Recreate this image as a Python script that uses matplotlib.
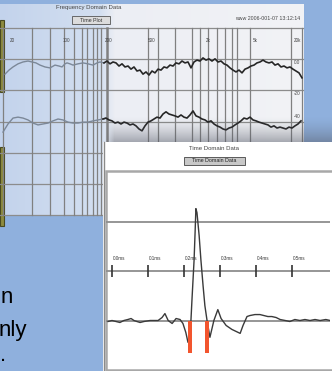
import numpy as np
import matplotlib
matplotlib.use("Agg")
import matplotlib.pyplot as plt
from matplotlib.patches import Rectangle
from matplotlib.colors import to_rgb

plt.rcParams['font.family'] = ['Liberation Sans', 'DejaVu Sans']

# ---------------- data ----------------
# Frequency-domain panel (x = analyser band index, y = level in dB)
freq_grid_bands = [3, 32, 50, 64, 74, 82, 87, 93, 97, 101, 107, 148, 158, 175,
                   192, 200, 208, 217, 225, 232, 237, 250, 291, 302]
freq_major_band = 107
level_grid = [0, -10, -20, -30, -40, -50, -60]
freq_label_bands = [12, 66, 109, 152, 208, 255, 297]
freq_labels = ['20', '100', '200', '500', '2k', '5k', '20k']
level_label_values = [-11, -21, -28.5]
level_labels = ['0.0', '-20', '-40']

upper_band = [5, 9, 13, 18, 23, 28, 32, 36, 40, 45, 50, 55, 59, 62, 65, 67, 70, 73, 78, 83,
              88, 93, 97, 100, 104, 107, 110, 113, 116, 119, 122, 125, 128, 131, 134, 137,
              140, 143, 146, 149, 152, 155, 158, 161, 164, 167, 170, 173, 176, 179, 182,
              185, 188, 191, 194, 197, 200, 203, 206, 209, 212, 215, 218, 221, 224, 227,
              230, 233, 236, 239, 242, 245, 248, 251, 254, 257, 260, 263, 266, 269, 272,
              275, 278, 281, 284, 287, 290, 293, 296, 299, 302]
upper_db = [-14.8, -13.5, -12.5, -11.5, -10.9, -10.6, -10.9, -11.2, -11.9, -12.5, -12.8,
            -11.9, -12.2, -12.5, -11.5, -11.2, -11.5, -11.9, -11.5, -11.2, -11.5, -11.9,
            -11.2, -10.9, -11.2, -10.6, -11.5, -10.9, -11.2, -12.2, -11.5, -12.5, -12.2,
            -13.2, -12.5, -13.8, -13.5, -14.8, -14.1, -15.1, -13.8, -14.4, -13.2, -13.5,
            -12.5, -12.8, -11.9, -12.2, -11.2, -11.5, -10.6, -11.2, -10.9, -12.8, -10.9,
            -10.3, -10.6, -9.6, -10.3, -9.9, -10.6, -9.9, -10.9, -10.6, -11.5, -11.9,
            -12.8, -13.5, -14.1, -13.5, -14.4, -13.2, -12.8, -12.2, -11.9, -11.2, -10.9,
            -10.3, -10.9, -11.2, -10.9, -11.9, -11.5, -12.5, -12.2, -12.8, -12.5, -13.2,
            -13.8, -14.4, -16.0]

lower_band = [3, 8, 13, 18, 23, 28, 33, 38, 43, 48, 53, 58, 63, 68, 73, 78, 83, 88, 93, 98,
              103, 106, 109, 112, 115, 118, 121, 124, 127, 130, 133, 136, 139, 142, 145,
              148, 151, 154, 157, 160, 163, 166, 169, 172, 175, 178, 181, 184, 187, 190,
              193, 196, 199, 202, 205, 208, 211, 214, 217, 220, 223, 226, 229, 232, 235,
              238, 241, 244, 247, 250, 253, 256, 259, 262, 265, 268, 271, 274, 277, 280,
              283, 286, 289, 292, 295, 298, 301]
lower_db = [-33.4, -30.8, -28.9, -28.6, -28.9, -29.5, -30.5, -31.1, -30.8, -30.5, -29.8,
            -29.2, -29.5, -30.2, -30.5, -30.5, -30.2, -30.2, -29.8, -29.5, -29.2, -28.9,
            -29.5, -29.8, -30.5, -30.2, -30.8, -30.2, -30.5, -31.1, -30.8, -31.4, -32.4,
            -33.0, -31.4, -30.2, -29.8, -29.2, -28.6, -28.9, -27.6, -26.9, -27.6, -27.9,
            -28.2, -28.6, -27.9, -28.6, -28.9, -27.9, -26.6, -28.2, -28.6, -29.2, -29.5,
            -30.2, -29.8, -30.8, -31.4, -31.8, -32.4, -32.7, -32.1, -31.8, -31.1, -30.5,
            -29.8, -28.9, -29.2, -28.6, -29.5, -29.8, -30.2, -30.5, -30.8, -31.1, -31.8,
            -31.4, -32.1, -31.8, -32.1, -32.4, -31.8, -32.1, -31.4, -30.8, -29.8]

# Time-domain panel (x = time in microseconds, y = normalised amplitude)
time_us = [-11, 0, 11, 22, 33, 44, 53, 61, 69, 78, 89, 106, 128, 139, 147, 156, 167, 178,
           189, 197, 205, 211, 214, 219, 222, 228, 231, 233, 236, 242, 247, 253, 258, 264,
           272, 283, 294, 303, 317, 333, 356, 364, 375, 383, 397, 411, 422, 433, 444, 456,
           467, 481, 494, 508, 522, 536, 550, 564, 578, 594, 606]
amplitude = [-0.01, 0.0, -0.01, -0.02, 0.0, 0.01, 0.02, 0.0, -0.01, -0.02, -0.01, 0.0,
             0.0, 0.03, 0.07, 0.0, -0.03, 0.02, 0.01, -0.03, -0.12, -0.22, -0.2, -0.02,
             0.2, 0.61, 0.91, 1.13, 1.09, 0.86, 0.61, 0.35, 0.15, 0.0, -0.17, 0.0, 0.11,
             0.02, -0.05, -0.09, -0.13, -0.05, 0.04, 0.05, 0.06, 0.06, 0.05, 0.04, 0.04,
             0.03, 0.01, 0.0, -0.01, 0.01, 0.0, 0.01, 0.0, 0.01, 0.0, 0.01, 0.0]
marker_time_us = [217, 264]
marker_depth = [-0.33, -0.33]
amp_grid = [0.0, 0.5, 1.0]
time_ticks_us = [0, 100, 200, 300, 400, 500]
time_tick_labels = ['0.0ms', '0.1ms', '0.2ms', '0.3ms', '0.4ms', '0.5ms']

# ---------------- figure ----------------
W, H = 332, 371
fig = plt.figure(figsize=(W / 100, H / 100), dpi=100)
fig.patch.set_facecolor('#8fb0dd')


def px_axes(x0, y0, x1, y1, z):
    ax = fig.add_axes([x0 / W, 1 - y1 / H, (x1 - x0) / W, (y1 - y0) / H])
    ax.set_zorder(z)
    ax.patch.set_alpha(0)
    ax.set_axis_off()
    return ax


# background layer
bg = px_axes(0, 0, W, H, 0)
stops_x = [0, 100, 115, 304]
stops_c = [to_rgb('#c3d3ec'), to_rgb('#d3dff0'), to_rgb('#eceef4'), to_rgb('#f2f3f6')]
xs = np.arange(304) + 0.5
grad = np.stack([np.interp(xs, stops_x, [c[i] for c in stops_c]) for i in range(3)],
                axis=-1)[None, :, :]
bg.imshow(grad, extent=(0, 304, 215, 4), aspect='auto', interpolation='bilinear', zorder=1)
for (y0, h) in [(20, 72), (147, 79)]:
    bg.add_patch(Rectangle((0, y0), 4, h, fc='#8d8b3f', ec='#4a4a20', lw=0.8, zorder=2))
bg.text(89, 8, 'Frequency Domain Data', fontsize=4.3, color='#444444',
        ha='center', va='center', zorder=3)
bg.add_patch(Rectangle((72, 16), 38, 8, fc='#dcdcdc', ec='#555555', lw=0.6, zorder=3))
bg.text(91, 20, 'Time Plot', fontsize=3.8, color='#333333', ha='center', va='center', zorder=4)
bg.text(300, 19, 'www 2006-001-07 13:12:14', fontsize=3.8, color='#444444',
        ha='right', va='center', zorder=3)
bg.set_xlim(0, W)
bg.set_ylim(H, 0)

# frequency-domain plot
fa = px_axes(0, 28, 303, 215, 1)
for lv in level_grid:
    fa.axhline(lv, color='#8c8c8c', lw=0.9, clip_on=False)
for b in freq_grid_bands:
    fa.axvline(b, color='#808080', lw=1.8 if b == freq_major_band else 0.9, clip_on=False)
for b, lab in zip(freq_label_bands, freq_labels):
    fa.text(b, -3.9, lab, fontsize=3.3, color='#444444', ha='center', va='center')
for v, lab in zip(level_label_values, level_labels):
    fa.text(297, v, lab, fontsize=3.3, color='#444444', ha='center', va='center')
split = freq_major_band - 3
ub = np.array(upper_band); ud = np.array(upper_db)
lb = np.array(lower_band); ld = np.array(lower_db)
for bands, vals in [(ub, ud), (lb, ld)]:
    left = bands <= split + 2
    right = bands >= split - 2
    fa.plot(bands[left], vals[left], color='#7c8898', lw=1.0)
    fa.plot(bands[right], vals[right], color='#262626', lw=1.2)
fa.set_xlim(0, 303)
fa.set_ylim(-60, 0)

# foreground layer: shadow, time window, left text
fg = px_axes(0, 0, W, H, 2)
ay = np.linspace(0, 1, 40) ** 1.5 * 0.5
ax_ = np.clip(np.arange(230) / 10, 0, 1)
alpha = np.outer(ay, ax_)
shade = np.zeros((40, 230, 4))
shade[..., 0] = 0.33
shade[..., 1] = 0.35
shade[..., 2] = 0.40
shade[..., 3] = alpha
fg.imshow(shade, extent=(104, 334, 143, 116), aspect='auto', interpolation='bilinear', zorder=1)
fg.add_patch(Rectangle((103, 142), 229, 229, fc='white', ec='none', zorder=2))
fg.plot([103.5, 103.5], [142, 371], color='#8a8a8a', lw=1.0, zorder=3)
fg.text(214, 148, 'Time Domain Data', fontsize=4.3, color='#444444',
        ha='center', va='center', zorder=3)
fg.add_patch(Rectangle((184, 157), 61, 8, fc='#c8c8c8', ec='#444444', lw=0.6, zorder=3))
fg.text(214.5, 161, 'Time Domain Data', fontsize=3.8, color='#222222',
        ha='center', va='center', zorder=4)
fg.add_patch(Rectangle((105.5, 171), 227, 199, fc='none', ec='#a8a8a8', lw=1.8, zorder=3))
fg.text(12.5, 303, 'n', fontsize=16, color='black', ha='right', va='baseline', zorder=3)
fg.text(27, 336, 'nly', fontsize=16, color='black', ha='right', va='baseline', zorder=3)
fg.text(0.5, 361, '.', fontsize=16, color='black', ha='left', va='baseline', zorder=3)
fg.set_xlim(0, W)
fg.set_ylim(H, 0)

# time-domain plot
ta = px_axes(106, 172, 330, 370, 3)
for a in amp_grid:
    ta.axhline(a, color='#8e8e8e', lw=1.3)
ta.vlines(time_ticks_us, 0.44, 0.56, color='#333333', lw=1.2)
for t, lab in zip(time_ticks_us, time_tick_labels):
    ta.text(t + 3, 0.63, lab, fontsize=3.3, color='#333333', ha='left', va='center')
ta.plot(time_us, amplitude, color='#3a3a3a', lw=1.0)
ta.bar(marker_time_us, marker_depth, width=10, bottom=0, color='#f2552e', zorder=4)
ta.set_xlim(-16.7, 605.6)
ta.set_ylim(-0.5, 1.5)

fig.savefig('out.png', dpi=100, facecolor=fig.get_facecolor())
